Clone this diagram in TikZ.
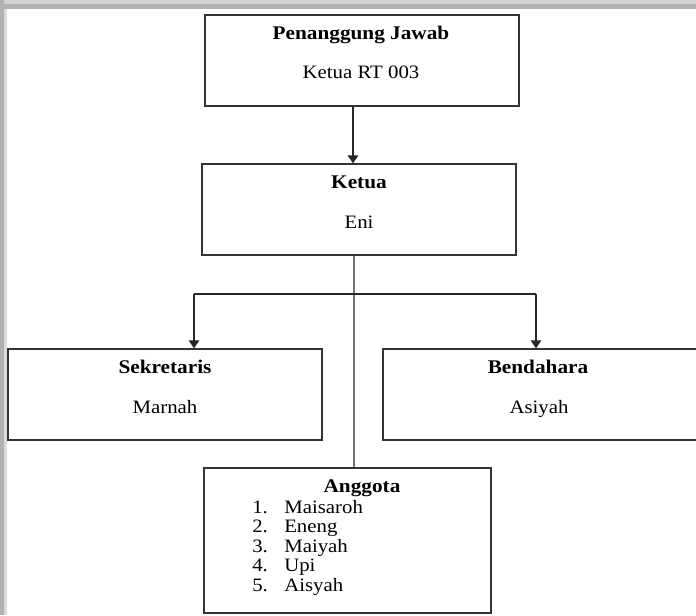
\documentclass[tikz,border=0pt]{standalone}
\usepackage{fontspec}
\setmainfont{Liberation Serif}[FakeStretch=1.1]
\usetikzlibrary{arrows.meta,fit}

\begin{document}
\begin{tikzpicture}[x=0.75pt,y=-0.75pt,
  box/.style={draw=black!80,line width=1.1pt,inner sep=0pt},
  ttl/.style={font=\fontsize{14.5}{17}\selectfont\bfseries,anchor=base,inner sep=0pt},
  txt/.style={font=\fontsize{14.2}{17}\selectfont,anchor=base,inner sep=0pt},
  link/.style={draw=black!85,line width=0.8pt},
  arr/.style={link,-{Triangle[length=6pt,width=8pt]}}]
  \useasboundingbox (0,0) rectangle (696,615);
  \fill[black!18] (0,0) rectangle (696,4);
  \fill[black!30] (0,4) rectangle (696,9);
  \fill[black!30] (0,0) rectangle (4,615);
  \fill[black!14] (4,9) rectangle (7,615);
  \node[box,fit={(205,15) (519,106)}] (pj) {};
  \node[ttl] (pj-t) at (361,39) {Penanggung Jawab};
  \node[txt] (pj-s) at (361,78) {Ketua RT 003};
  \node[box,fit={(202,164) (516,255)}] (ket) {};
  \node[ttl] (ket-t) at (359,188) {Ketua};
  \node[txt] (ket-s) at (359,228) {Eni};
  \node[box,fit={(8,349) (322,440)}] (sek) {};
  \node[ttl] (sek-t) at (165,373) {Sekretaris};
  \node[txt] (sek-s) at (165,413) {Marnah};
  \node[box,fit={(383,349) (702,440)}] (ben) {};
  \node[ttl] (ben-t) at (538,373) {Bendahara};
  \node[txt] (ben-s) at (539,413) {Asiyah};
  \node[box,fit={(204,468) (491,613)}] (ang) {};
  \node[ttl] (ang-t) at (362,492) {Anggota};
  \foreach \i/\n/\y in {1/Maisaroh/513,2/Eneng/532.5,3/Maiyah/552,4/Upi/571.5,5/Aisyah/591} {
    \node[txt,anchor=base west] (num\i) at (252,\y) {\i.};
    \node[txt,anchor=base west] (ang\i) at (284,\y) {\n};
  }
  \coordinate (down) at (353,0);
  \coordinate (trunk) at (354,294);
  \coordinate (bl) at (194,294);
  \coordinate (br) at (536,294);
  \draw[arr] (down |- pj.south) -- (down |- ket.north);
  \draw[link,draw=black!55] (trunk |- ket.south) -- (trunk |- ang.north);
  \draw[link] (bl) -- (br);
  \draw[arr] (bl) -- (bl |- sek.north);
  \draw[arr] (br) -- (br |- ben.north);
\end{tikzpicture}
\end{document}
